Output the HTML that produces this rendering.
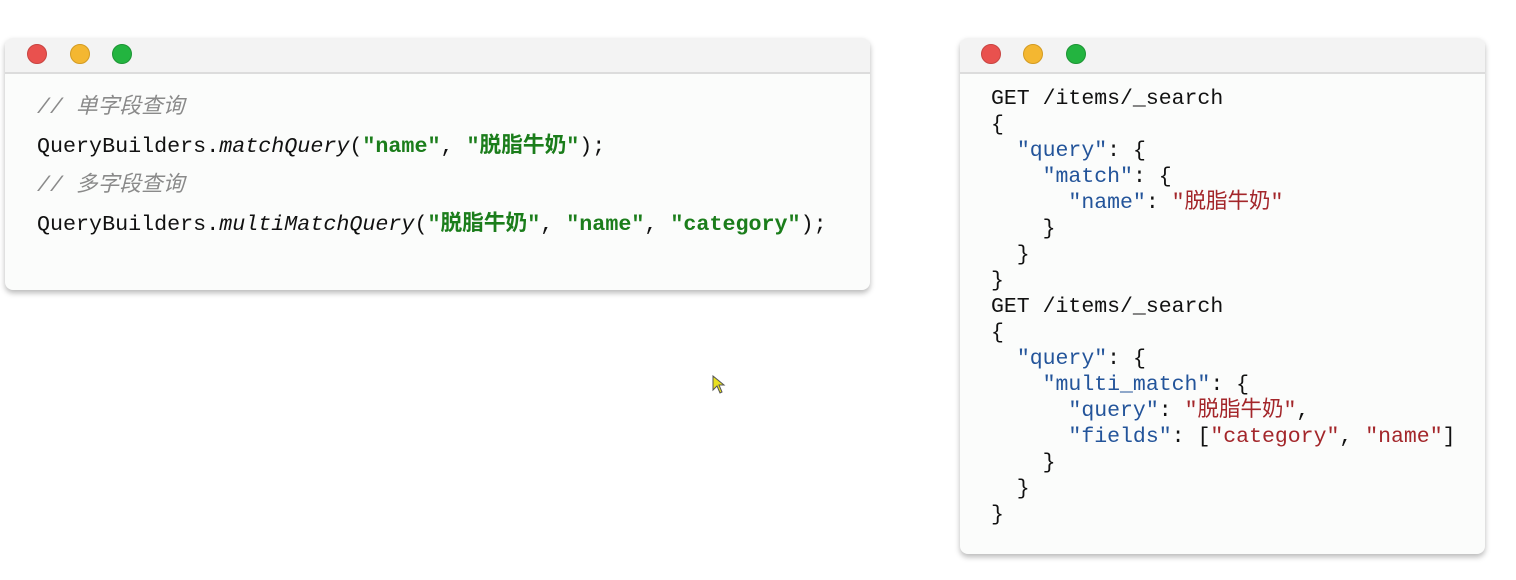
<!DOCTYPE html>
<html><head><meta charset="utf-8"><style>
body{margin:0;width:1516px;height:580px;background:#fff;position:relative;overflow:hidden;font-family:"Liberation Mono","Noto Sans CJK SC",monospace;}
.win{position:absolute;background:#fbfcfb;border-radius:8px;box-shadow:0 3px 6px rgba(0,0,0,.28);overflow:hidden;}
.hdr{position:absolute;left:0;right:0;top:0;height:34px;background:#f3f3f3;border-bottom:2px solid #dcdcdc;}
.dot{position:absolute;top:6px;border-radius:50%;}
.r{background:#e9514e;border:1px solid #c84441;width:18px;height:18px}
.y{background:#f4b731;border:1px solid #d39b22;width:18px;height:18px}
.g{background:#23b440;border:1px solid #1d9434;width:18px;height:18px}
pre{position:absolute;margin:0;font-family:"Liberation Mono","Noto Sans CJK SC",monospace;color:#111;}
.c{color:#8a8a8a;font-style:italic}
.s{color:#1b7d1b;font-weight:bold}
.i{font-style:italic}
.k{color:#23549a}
.v{color:#a3262a}
</style></head><body>
<div class="win" style="left:5px;top:38px;width:865px;height:252px">
<div class="hdr"></div>
<div class="dot r" style="left:22px"></div><div class="dot y" style="left:65px"></div><div class="dot g" style="left:107px"></div>
<pre style="left:32px;top:50px;font-size:21.7px;line-height:39px"><span class="c">// 单字段查询</span>
QueryBuilders.<span class="i">matchQuery</span>(<span class="s">"name"</span>, <span class="s">"脱脂牛奶"</span>);
<span class="c">// 多字段查询</span>
QueryBuilders.<span class="i">multiMatchQuery</span>(<span class="s">"脱脂牛奶"</span>, <span class="s">"name"</span>, <span class="s">"category"</span>);</pre>
</div>
<div class="win" style="left:960px;top:38px;width:525px;height:516px">
<div class="hdr"></div>
<div class="dot r" style="left:21px"></div><div class="dot y" style="left:63px"></div><div class="dot g" style="left:106px"></div>
<pre style="left:31px;top:48px;font-size:21.5px;line-height:26px">GET /items/_search
{
  <span class="k">"query"</span>: {
    <span class="k">"match"</span>: {
      <span class="k">"name"</span>: <span class="v">"脱脂牛奶"</span>
    }
  }
}
GET /items/_search
{
  <span class="k">"query"</span>: {
    <span class="k">"multi_match"</span>: {
      <span class="k">"query"</span>: <span class="v">"脱脂牛奶"</span>,
      <span class="k">"fields"</span>: [<span class="v">"category"</span>, <span class="v">"name"</span>]
    }
  }
}</pre>
</div>
<svg style="position:absolute;left:712px;top:375px" width="14" height="20"><path d="M1 1 L1 15 L5 11 L8 18 L10 17 L7 10 L12 10 Z" fill="#e8e020" stroke="#555" stroke-width="1"/></svg>
</body></html>
